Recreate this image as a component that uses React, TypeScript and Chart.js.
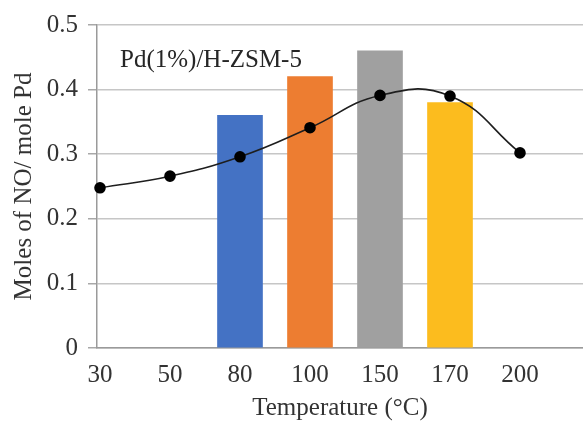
import React, { useEffect, useRef } from "react";
import { Chart, registerables } from "chart.js";

Chart.register(...registerables);

const temperatures = ["30", "50", "80", "100", "150", "170", "200"];
const barValues: (number | null)[] = [null, null, 0.36, 0.42, 0.46, 0.38, null];
const lineValues = [0.248, 0.266, 0.296, 0.341, 0.391, 0.39, 0.302];
const barColors = ["#4472C4", "#4472C4", "#4472C4", "#ED7D31", "#A0A0A0", "#FCBC1E", "#4472C4"];
const yTicks = [0, 0.1, 0.2, 0.3, 0.4, 0.5];
const chartLabel = "Pd(1%)/H-ZSM-5";
const xTitle = "Temperature (°C)";
const yTitle = "Moles of NO/ mole Pd";

const FONT = "'Liberation Serif', 'Times New Roman', serif";

export default function App() {
  const ref = useRef<HTMLCanvasElement | null>(null);
  useEffect(() => {
    if (!ref.current) return;
    const insideLabel = {
      id: "insideLabel",
      afterDraw(chart: any) {
        const { ctx, chartArea } = chart;
        ctx.save();
        ctx.font = `25px ${FONT}`;
        ctx.fillStyle = "#262626";
        ctx.textBaseline = "middle";
        ctx.textAlign = "left";
        ctx.fillText(chartLabel, chartArea.left + 23, chartArea.top + 35);
        ctx.restore();
      },
    };
    const chart = new Chart(ref.current, {
      type: "bar",
      data: {
        datasets: [
          {
            type: "line",
            data: lineValues.map((v, i) => ({ x: i, y: v })),
            borderColor: "#1e1e1e",
            borderWidth: 1.6,
            pointRadius: 5,
            pointBackgroundColor: "#000",
            pointBorderColor: "#000",
            tension: 0.45,
            clip: false as any,
            order: 0,
          } as any,
          {
            type: "bar",
            data: barValues.map((v, i) => ({ x: i, y: v })),
            backgroundColor: barColors,
            barThickness: 45,
            order: 1,
          } as any,
        ],
      },
      options: {
        animation: false,
        responsive: false,
        maintainAspectRatio: false,
        layout: { autoPadding: false, padding: { top: 22, left: 0, right: 0, bottom: 0 } },
        plugins: { legend: { display: false }, tooltip: { enabled: false } },
        scales: {
          x: {
            type: "linear",
            offset: false,
            min: -0.042857,
            max: 6.9,
            afterBuildTicks: (scale: any) => {
              scale.ticks = temperatures.map((_, i) => ({ value: i }));
            },
            afterFit: (scale: any) => {
              scale.height = 75;
            },
            ticks: {
              autoSkip: false,
              maxRotation: 0,
              padding: 12,
              color: "#333",
              font: { family: FONT, size: 25 },
              callback: (v: any) => temperatures[Math.round(Number(v))],
            },
            grid: { display: false, drawTicks: false, offset: false },
            border: { display: true, color: "#9a9a9a", width: 1.5 },
            title: {
              display: true,
              text: xTitle,
              color: "#333",
              font: { family: FONT, size: 25 },
              padding: { top: 0, bottom: 0 },
            },
          },
          y: {
            type: "linear",
            min: 0,
            max: 0.5,
            afterBuildTicks: (scale: any) => {
              scale.ticks = yTicks.map((v) => ({ value: v }));
            },
            afterFit: (scale: any) => {
              scale.width = 97;
            },
            ticks: {
              padding: 10,
              color: "#333",
              font: { family: FONT, size: 25 },
              callback: (v: any) => String(Number(v)),
            },
            grid: { color: "#c6c6c6", lineWidth: 1.5, tickLength: 9, tickColor: "#a8a8a8" },
            border: { display: true, color: "#9a9a9a", width: 1.5 },
            title: {
              display: true,
              text: yTitle,
              color: "#333",
              font: { family: FONT, size: 25 },
              padding: { top: 9, bottom: 0 },
            },
          },
        },
      },
      plugins: [insideLabel],
    });
    return () => chart.destroy();
  }, []);
  return (
    <div style={{ position: "fixed", left: 0, top: 0, width: 583, height: 423, background: "#fff" }}>
      <canvas ref={ref} width={583} height={423} />
    </div>
  );
}
